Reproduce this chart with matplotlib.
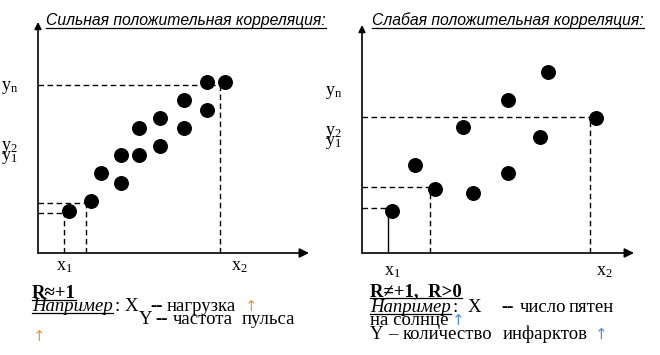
import matplotlib
matplotlib.use("Agg")
import matplotlib.pyplot as plt

plt.rcParams['mathtext.fontset'] = 'custom'
plt.rcParams['mathtext.rm'] = 'Liberation Serif'
plt.rcParams['mathtext.it'] = 'Liberation Serif:italic'

SERIF = ['Liberation Serif', 'DejaVu Serif']
SANS = ['Liberation Sans', 'DejaVu Sans']
ARROW = ['DejaVu Sans']

# strong correlation (units = px from axis origin)
strong_x = [31, 53, 63, 83, 83, 101, 101, 122, 122, 146, 146, 169, 169, 187]
strong_y = [42, 52, 80, 70, 98, 98, 125, 107, 135, 125, 153, 143, 171, 171]
strong_guides = [(26, 40), (48, 50), (182, 168)]

# weak correlation
weak_x = [30, 53, 73, 101, 111, 146, 146, 178, 186, 234]
weak_y = [42, 88, 64, 126, 60, 80, 153, 116, 181, 135]
weak_guides = [(26, 45), (68, 66), (228, 136)]

W, H = 660, 355
fig = plt.figure(figsize=(6.6, 3.55), dpi=100)
ax0 = fig.add_axes([0, 0, 1, 1])
ax0.set_xlim(0, W)
ax0.set_ylim(H, 0)
ax0.axis('off')


def panel(ox, oy, tipx, tipy):
    # axes where 1 unit = 1 px, origin at (ox, oy) in image px
    w, h = tipx - ox, oy - tipy
    ax = fig.add_axes([ox / W, (H - oy) / H, w / W, h / H])
    ax.set_xlim(0, w)
    ax.set_ylim(0, h)
    ax.axis('off')
    ax.annotate('', xy=(w, 0), xytext=(0, 0),
                arrowprops=dict(arrowstyle='-|>', color='black', lw=1.2,
                                mutation_scale=14, shrinkA=0, shrinkB=0),
                annotation_clip=False)
    ax.annotate('', xy=(0, h), xytext=(0, 0),
                arrowprops=dict(arrowstyle='-|>', color='black', lw=1.2,
                                mutation_scale=10, shrinkA=0, shrinkB=0),
                annotation_clip=False)
    return ax


dash = (0, (4, 2.5))

axL = panel(38, 253, 309, 22)
axL.scatter(strong_x, strong_y, s=95, color='black', zorder=3, clip_on=False)
for gx, gy in strong_guides:
    axL.plot([0, gx], [gy, gy], color='black', lw=1, ls=dash)
    axL.plot([gx, gx], [0, gy], color='black', lw=1, ls=dash)

axR = panel(362, 253, 634, 25)
axR.scatter(weak_x, weak_y, s=95, color='black', zorder=3, clip_on=False)
for i, (gx, gy) in enumerate(weak_guides):
    axR.plot([0, gx], [gy, gy], color='black', lw=1, ls=dash)
    axR.plot([gx, gx], [0, gy], color='black', lw=1,
             ls='-' if i == 0 else dash)


def txt(x, y, s, size=13.5, fam=SERIF, color='black', **kw):
    return ax0.text(x, y, s, fontsize=size, family=fam, color=color,
                    va='baseline', ha='left', **kw)


def arrow(x, y, color):
    return txt(x, y, '↑', size=11, fam=ARROW, color=color)


underlined = []

# titles
underlined.append((txt(46, 25, 'Сильная положительная корреляция:', size=11.3,
                       fam=SANS, style='italic'), 27.5))
underlined.append((txt(372, 25, 'Слабая положительная корреляция:', size=11.3,
                       fam=SANS, style='italic'), 27.5))

# axis labels
lab = 13
txt(1, 90, r'$\mathrm{y}_\mathrm{n}$', size=lab)
txt(1, 150, r'$\mathrm{y}_2$', size=lab)
txt(1, 160, r'$\mathrm{y}_1$', size=lab)
txt(56, 270, r'$\mathrm{x}_1$', size=lab)
txt(231, 270, r'$\mathrm{x}_2$', size=lab)

txt(325, 95, r'$\mathrm{y}_\mathrm{n}$', size=lab)
txt(325, 135, r'$\mathrm{y}_2$', size=lab)
txt(325, 145, r'$\mathrm{y}_1$', size=lab)
txt(384, 275, r'$\mathrm{x}_1$', size=lab)
txt(596, 275, r'$\mathrm{x}_2$', size=lab)

orange = '#E39B4F'
blue = '#4F8FD6'

# left notes
underlined.append((txt(32, 298, 'R≈+1', weight='bold'), 300))
underlined.append((txt(32, 311, 'Например', style='italic'), 313))
txt(114, 311, ':')
txt(125, 311, 'X')
txt(150, 311, '--', weight='bold')
txt(167, 311, 'нагрузка')
arrow(245, 311, orange)
txt(139, 324, 'Y')
txt(155, 324, '--', weight='bold')
txt(173, 324, 'частота')
txt(242, 324, 'пульса')
arrow(33, 341, orange)

# right notes
underlined.append((txt(370, 296, 'R≠+1,  R>0', weight='bold'), 298))
underlined.append((txt(370, 312, 'Например', style='italic'), 314))
txt(452, 312, ':')
txt(468, 312, 'X')
txt(501, 312, '--', weight='bold')
txt(520, 312, 'число')
txt(569, 312, 'пятен')
txt(370, 325, 'на солнце')
arrow(452, 325, blue)
txt(370, 339, 'Y')
txt(388, 339, '–')
txt(403, 339, 'количество')
txt(503, 339, 'инфарктов')
arrow(595, 339, blue)

fig.canvas.draw()
inv = ax0.transData.inverted()
for t, uy in underlined:
    bb = t.get_window_extent()
    x0 = inv.transform((bb.x0, bb.y0))[0]
    x1 = inv.transform((bb.x1, bb.y0))[0]
    ax0.plot([x0, x1], [uy, uy], color='black', lw=0.9)

fig.savefig('out.png', dpi=100)
